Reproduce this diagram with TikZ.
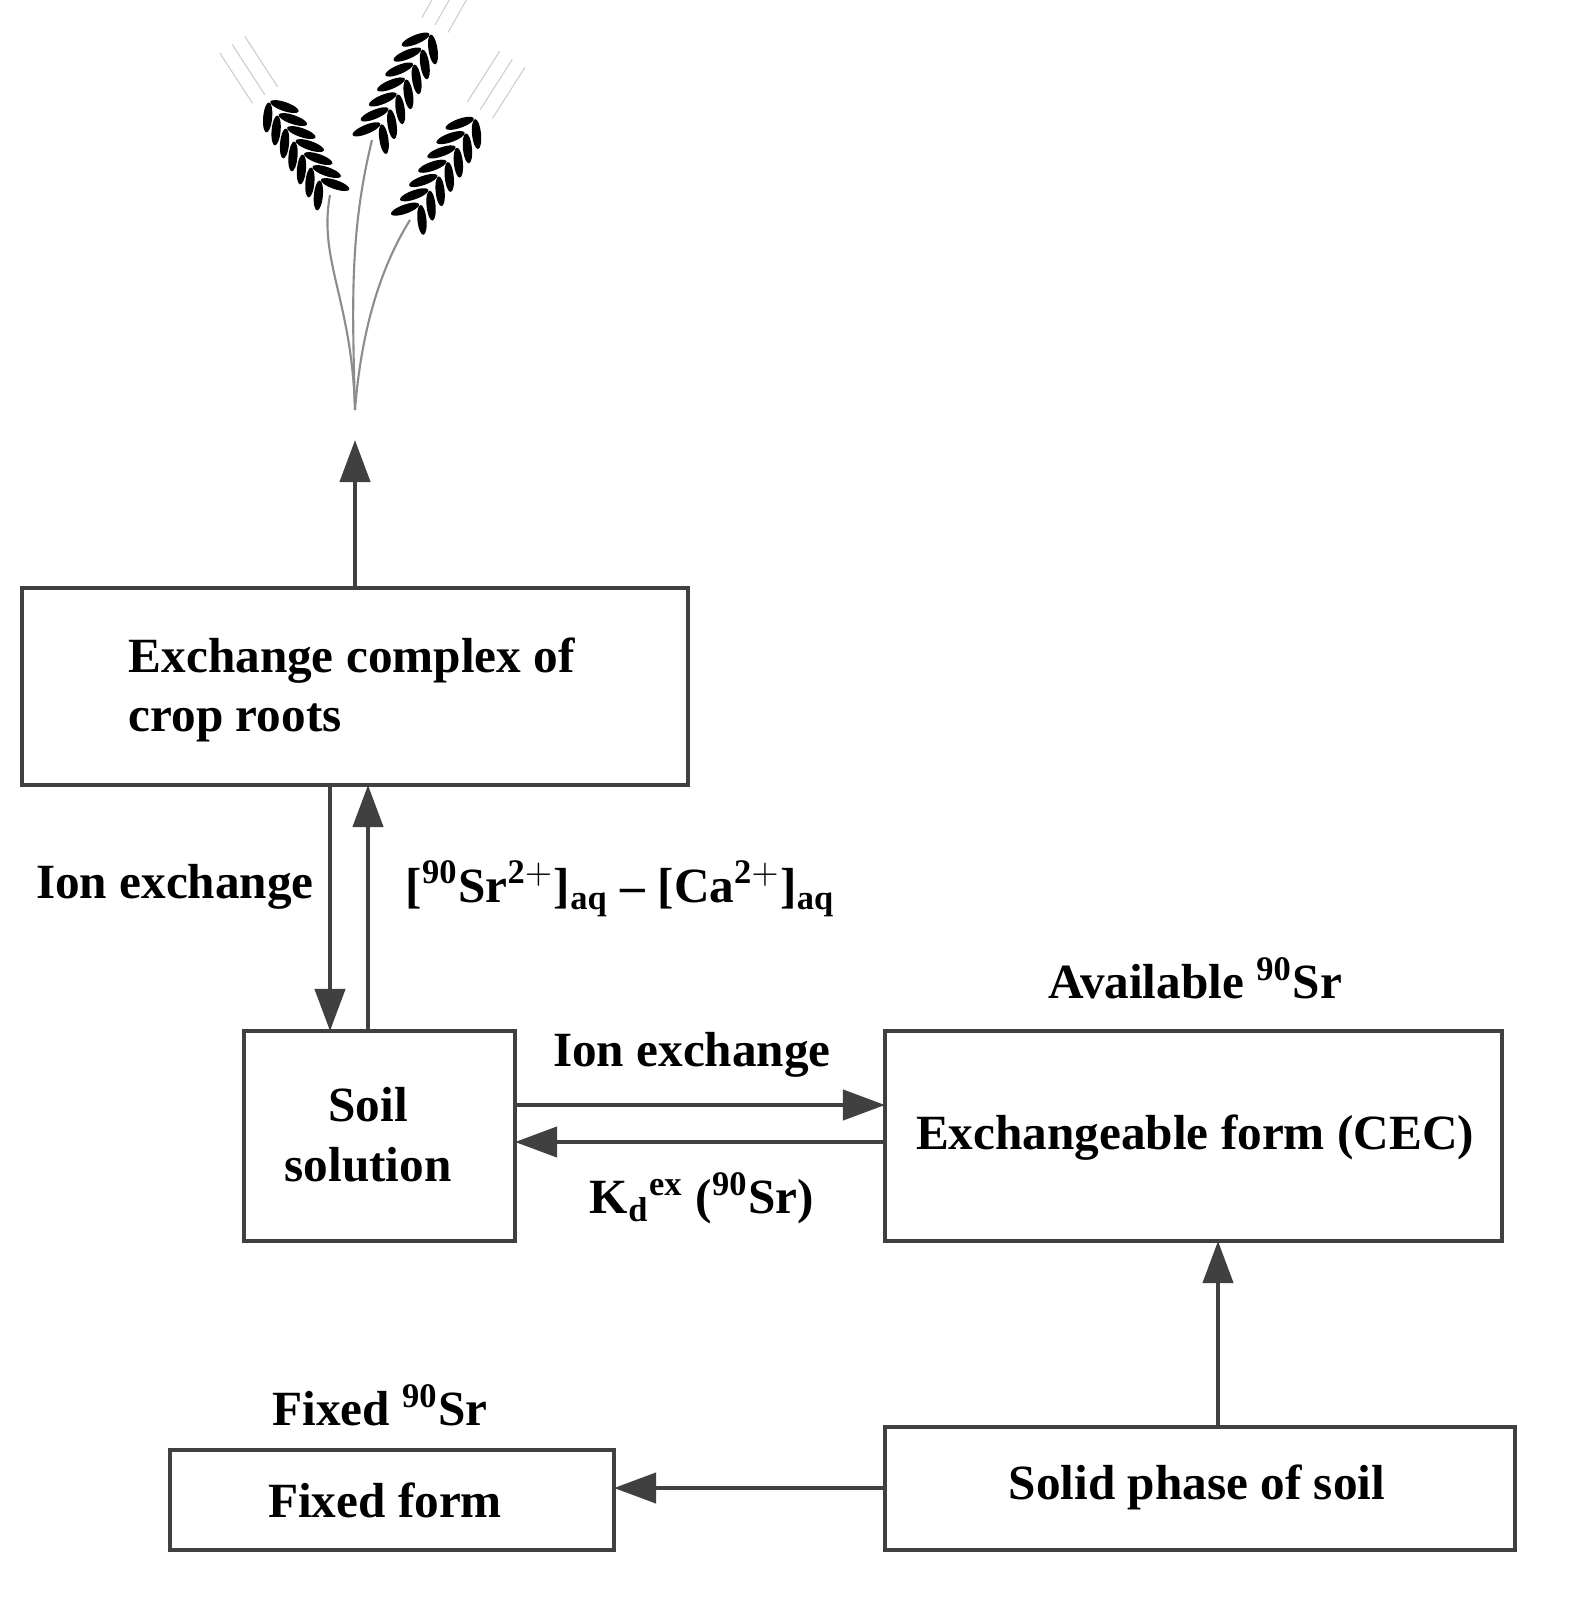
\documentclass[tikz,border=0pt]{standalone}
\usepackage{fontspec}
\setmainfont{Liberation Serif}
\usetikzlibrary{calc,shapes.geometric,arrows.meta}
\begin{document}
\begin{tikzpicture}[x=0.01cm,y=-0.01cm,
  box/.style={draw=black!75,line width=1.3pt},
  arr/.style={draw=black!75,line width=1.2pt,-{Triangle[length=0.42cm,width=0.3cm]}},
  lab/.style={font=\fontsize{14pt}{17pt}\selectfont\bfseries,inner sep=0pt},
  grain/.style={ellipse,fill=black,inner sep=0pt,minimum width=0.3cm,minimum height=0.09cm}]
\useasboundingbox (0,0) rectangle (1583,1618);
% boxes
\draw[box] (22,588) rectangle (688,785);
\coordinate (ectop) at (355,588);
\coordinate (ecb1) at (330,785);
\coordinate (ecb2) at (368,785);
\draw[box] (244,1031) rectangle (515,1241);
\draw[box] (885,1031) rectangle (1502,1241);
\draw[box] (885,1427) rectangle (1515,1550);
\draw[box] (170,1450) rectangle (614,1550);
\node[lab,anchor=west,align=left] (ec) at (128,690) {Exchange complex of\\crop roots};
\node[lab,align=center] (ss) at (368,1135) {Soil\\solution};
\node[lab] (ef) at (1195,1138) {Exchangeable form (CEC)};
\node[lab] (sp) at (1197,1487) {Solid phase of soil};
\node[lab] (ff) at (385,1500) {Fixed form};
% labels
\node[lab] at (175,887) {Ion exchange};
\node[lab,anchor=west] at (405,889) {[$^{\mathbf{90}}$Sr$^{\mathbf{2+}}$]$_{\mathbf{aq}}$ -- [Ca$^{\mathbf{2+}}$]$_{\mathbf{aq}}$};
\node[lab] at (1195,978) {Available $^{\mathbf{90}}$Sr};
\node[lab] at (692,1055) {Ion exchange};
\node[lab] at (702,1198) {K$_{\mathbf{d}}$$^{\mathbf{ex}}$ ($^{\mathbf{90}}$Sr)};
\node[lab] at (380,1405) {Fixed $^{\mathbf{90}}$Sr};
% arrows
\coordinate (tip) at (355,440);
\draw[arr] (ectop) -- (tip);
\draw[arr] (ecb1) -- (330,1031);
\draw[arr] (368,1031) -- (ecb2);
\draw[arr] (515,1105) -- (885,1105);
\draw[arr] (885,1142) -- (515,1142);
\draw[arr] (1218,1427) -- (1218,1241);
\draw[arr] (885,1488) -- (614,1488);
% wheat
\draw[black!45,line width=0.6pt] (355,410) .. controls (352,300) and (318,260) .. (330,195);
\draw[black!45,line width=0.6pt] (355,410) .. controls (352,300) and (350,230) .. (372,140);
\draw[black!45,line width=0.6pt] (355,410) .. controls (362,320) and (385,260) .. (410,220);
\foreach \bx/\by/\tx/\ty/\a in {330/195/265/95/123, 372/140/435/25/60.5, 410/220/480/110/57.5}{
  \foreach \t in {0.05,0.18,...,0.95}{
    \node[grain,rotate=\a+38] at ($($(\bx,\by)!\t!(\tx,\ty)$)+(\a-90:0.1cm)$) {};
    \node[grain,rotate=\a-38] at ($($(\bx,\by)!\t!(\tx,\ty)$)+(\a+90:0.1cm)$) {};
  }
  \foreach \s in {-0.15,0,0.15}{
    \draw[black!20,line width=0.3pt] ($(\tx,\ty)+(\a+90:\s cm)$) -- ++(\a:0.6cm);
  }
}
\end{tikzpicture}
\end{document}
